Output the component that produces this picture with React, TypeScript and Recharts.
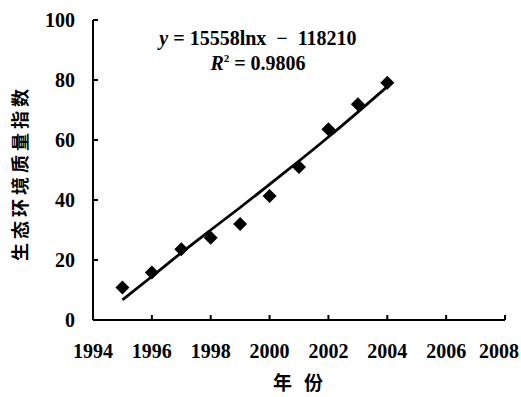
import { ComposedChart, Line, Scatter, XAxis, YAxis, Customized } from "recharts"

const years = [1995, 1996, 1997, 1998, 1999, 2000, 2001, 2002, 2003, 2004]
const qualityIndex = [10.8, 15.8, 23.6, 27.4, 32.0, 41.3, 51.0, 63.6, 71.9, 79.1]
const trendValues = [6.7, 14.5, 22.4, 30.0, 37.5, 45.2, 53.0, 61.0, 69.3, 77.8]
const xTicks = [1994, 1996, 1998, 2000, 2002, 2004, 2006, 2008]
const yTicks = [0, 20, 40, 60, 80, 100]

const data = years.map((year, i) => ({
  year,
  index: qualityIndex[i],
  trend: trendValues[i],
}))

const serif = "'Liberation Serif', 'DejaVu Serif', serif"
const cjk = "'Noto Sans CJK SC', sans-serif"

const XTick = (props: any) => {
  const { x, y, payload } = props
  // last label sits against the right edge in the original
  const tx = Math.min(x, 499)
  return (
    <g>
      <line x1={x} x2={x} y1={y} y2={y - 5} stroke="#000" strokeWidth={2} />
      <text x={tx} y={y + 38} textAnchor="middle" fontFamily={serif} fontWeight="bold" fontSize={20} fill="#000">
        {payload.value}
      </text>
    </g>
  )
}

const YTick = (props: any) => {
  const { x, y, payload } = props
  return (
    <g>
      <line x1={x} x2={x + 5} y1={y} y2={y} stroke="#000" strokeWidth={2} />
      <text x={x - 18} y={y + 7} textAnchor="end" fontFamily={serif} fontWeight="bold" fontSize={20} fill="#000">
        {payload.value}
      </text>
    </g>
  )
}

const Diamond = (props: any) => {
  const { cx, cy } = props
  const r = 7
  return <polygon points={`${cx},${cy - r} ${cx + r},${cy} ${cx},${cy + r} ${cx - r},${cy}`} fill="#000" />
}

const Titles = () => (
  <g fill="#000">
    <text x={258} y={45} textAnchor="middle" fontFamily={serif} fontWeight="bold" fontSize={20} xmlSpace="preserve">
      <tspan fontStyle="italic">y</tspan> = 15558lnx  −  118210
    </text>
    <text x={258} y={70} textAnchor="middle" fontFamily={serif} fontWeight="bold" fontSize={20}>
      <tspan fontStyle="italic">R</tspan>
      <tspan fontSize={11} dy={-8}>2</tspan>
      <tspan dy={8}> = 0.9806</tspan>
    </text>
    <text
      x={19}
      y={173}
      transform="rotate(-90 19 173)"
      textAnchor="middle"
      dominantBaseline="central"
      fontFamily={cjk}
      fontWeight="bold"
      fontSize={18}
      letterSpacing={4}
    >
      生态环境质量指数
    </text>
    <text x={273} y={390} fontFamily={cjk} fontWeight="bold" fontSize={19} letterSpacing={12}>
      年份
    </text>
  </g>
)

export default function App() {
  return (
    <div style={{ position: "absolute", left: 0, top: 0, width: 521, height: 397, background: "#fff" }}>
      <ComposedChart width={521} height={397} data={data} margin={{ top: 20, right: 16, left: 33, bottom: 37 }}>
        <XAxis
          dataKey="year"
          type="number"
          domain={[1994, 2008]}
          ticks={xTicks}
          tick={<XTick />}
          tickLine={false}
          tickSize={0}
          tickMargin={0}
          height={40}
          axisLine={{ stroke: "#000", strokeWidth: 2 }}
          interval={0}
        />
        <YAxis
          type="number"
          domain={[0, 100]}
          ticks={yTicks}
          tick={<YTick />}
          tickLine={false}
          tickSize={0}
          tickMargin={0}
          width={60}
          axisLine={{ stroke: "#000", strokeWidth: 2 }}
          interval={0}
        />
        <Line dataKey="trend" type="monotone" stroke="#000" strokeWidth={2.8} dot={false} isAnimationActive={false} />
        <Scatter dataKey="index" fill="#000" shape={<Diamond />} isAnimationActive={false} />
        <Customized component={Titles} />
      </ComposedChart>
    </div>
  )
}
